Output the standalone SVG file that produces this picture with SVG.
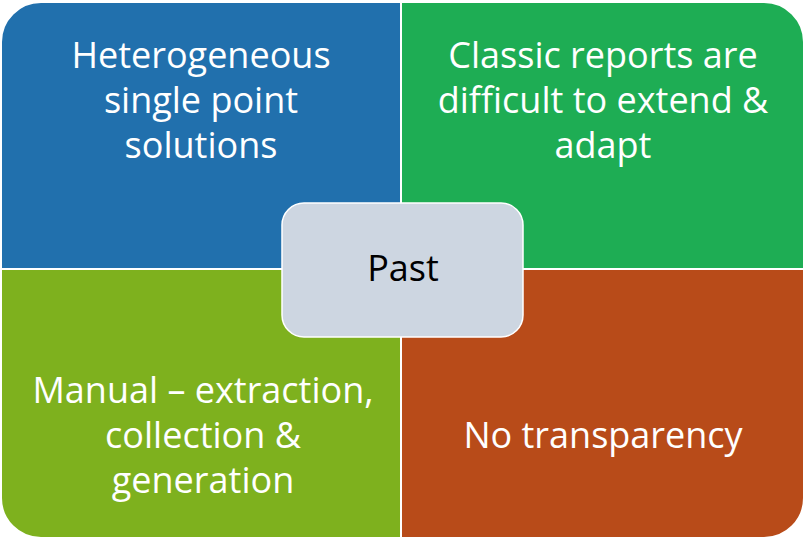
<svg xmlns="http://www.w3.org/2000/svg" width="808" height="541" viewBox="0 0 808 541">
<style>
.q{stroke:#FFFFFF;stroke-width:2}
.t{font-family:"Open Sans","Noto Sans","DejaVu Sans",sans-serif;font-size:36px;fill:#FFFFFF;text-anchor:middle}
.c{font-family:"Open Sans","Noto Sans","DejaVu Sans",sans-serif;font-size:36px;fill:#000000;text-anchor:middle}
</style>
<rect width="808" height="541" fill="#FFFFFF"/>
<g id="q1">
<path class="q" d="M1,42 A40,40 0 0 1 41,2 L401,2 L401,269 L1,269 Z" fill="#2170AD"/>
<text class="t" x="201" y="68">Heterogeneous</text>
<text class="t" x="201" y="113">single point</text>
<text class="t" x="201" y="158">solutions</text>
</g>
<g id="q2">
<path class="q" d="M401,2 L764,2 A40,40 0 0 1 804,42 L804,269 L401,269 Z" fill="#1EAD54"/>
<text class="t" x="603" y="68">Classic reports are</text>
<text class="t" x="603" y="113">difficult to extend &amp;</text>
<text class="t" x="603" y="158">adapt</text>
</g>
<g id="q3">
<path class="q" d="M1,269 L401,269 L401,538 L41,538 A40,40 0 0 1 1,498 Z" fill="#7EB11E"/>
<text class="t" x="203" y="403">Manual – extraction,</text>
<text class="t" x="203" y="448">collection &amp;</text>
<text class="t" x="203" y="493">generation</text>
</g>
<g id="q4">
<path class="q" d="M401,269 L804,269 L804,498 A40,40 0 0 1 764,538 L401,538 Z" fill="#B84B19"/>
<text class="t" x="603" y="448">No transparency</text>
</g>
<g id="center">
<rect x="282" y="203" width="241" height="134" rx="22" ry="22" fill="#CDD6E1" stroke="#FFFFFF" stroke-width="1.5"/>
<text class="c" x="403" y="281">Past</text>
</g>
<g id="connectors"/>
</svg>
